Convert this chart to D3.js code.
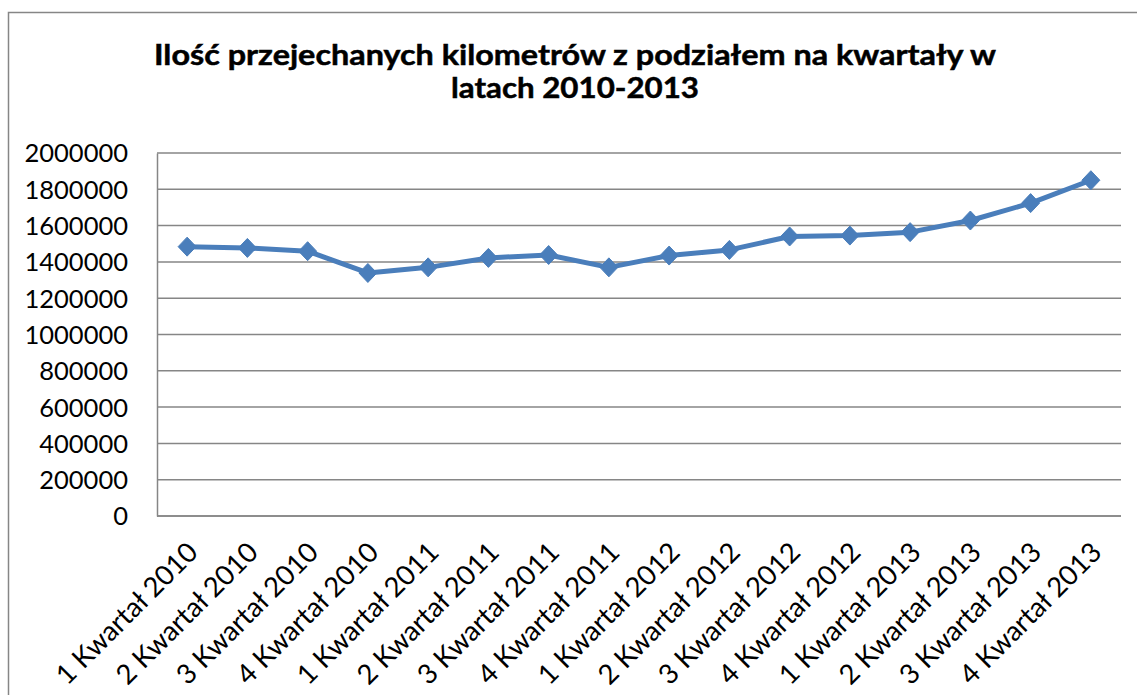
<!DOCTYPE html>
<html>
<head>
<meta charset="utf-8">
<script src="https://cdn.jsdelivr.net/npm/d3@7"></script>
<style>
  html, body { margin: 0; padding: 0; background: #fff; }
  svg { display: block; }
</style>
</head>
<body>
<svg id="chart" width="1137" height="695"></svg>
<script>
const categories = [
  "1 Kwartał 2010", "2 Kwartał 2010", "3 Kwartał 2010", "4 Kwartał 2010",
  "1 Kwartał 2011", "2 Kwartał 2011", "3 Kwartał 2011", "4 Kwartał 2011",
  "1 Kwartał 2012", "2 Kwartał 2012", "3 Kwartał 2012", "4 Kwartał 2012",
  "1 Kwartał 2013", "2 Kwartał 2013", "3 Kwartał 2013", "4 Kwartał 2013"
];
const kilometers = [
  1484000, 1477000, 1459000, 1339000,
  1370000, 1422000, 1438000, 1370000,
  1435000, 1466000, 1540000, 1545000,
  1564000, 1628000, 1724000, 1850000
];
const yTicks = [0, 200000, 400000, 600000, 800000, 1000000, 1200000, 1400000, 1600000, 1800000, 2000000];
const titleLines = ["Ilość przejechanych kilometrów z podziałem na kwartały w", "latach 2010-2013"];

const svg = d3.select("#chart");
const W = 1137, H = 695;
const plot = { left: 157, right: 1121, top: 153, bottom: 516 };
const font = "Lato, 'Open Sans', sans-serif";

// outer chart border (left and top visible)
svg.append("path")
  .attr("d", `M8.5,${H}V12.5H${W}`)
  .attr("fill", "none")
  .attr("stroke", "#868686")
  .attr("stroke-width", 1.5);

// title
const titleWidths = [842, 248];
titleLines.forEach((t, i) => {
  svg.append("text")
    .attr("text-anchor", "middle")
    .attr("font-family", font)
    .attr("font-weight", "bold")
    .attr("font-size", 29)
    .attr("fill", "#000")
    .attr("stroke", "#000")
    .attr("stroke-width", 0.5)
    .attr("x", 575)
    .attr("y", 65 + i * 33)
    .attr("textLength", titleWidths[i])
    .attr("lengthAdjust", "spacingAndGlyphs")
    .text(t);
});

const x = d3.scalePoint().domain(categories).range([plot.left, plot.right]).padding(0.5);
const y = d3.scaleLinear().domain([0, 2000000]).range([plot.bottom, plot.top]);

// gridlines
svg.append("g")
  .selectAll("line")
  .data(yTicks)
  .join("line")
  .attr("x1", plot.left).attr("x2", plot.right)
  .attr("y1", d => y(d)).attr("y2", d => y(d))
  .attr("stroke", "#868686")
  .attr("stroke-width", 1.5);

// y axis
const yAxis = svg.append("g")
  .attr("transform", `translate(${plot.left},0)`)
  .call(d3.axisLeft(y).tickValues(yTicks).tickFormat(d3.format("d")).tickSize(0).tickPadding(29));
yAxis.select(".domain").attr("stroke", "#868686").attr("stroke-width", 1.5);
yAxis.selectAll("text")
  .attr("font-family", font)
  .attr("font-size", 25.5)
  .attr("fill", "#000")
  .attr("dy", "0.35em");

// x axis
const xAxis = svg.append("g")
  .attr("transform", `translate(0,${plot.bottom})`)
  .call(d3.axisBottom(x).tickSize(0).tickPadding(0));
xAxis.select(".domain").attr("d", `M${plot.left},0H${plot.right}`).attr("stroke", "#868686").attr("stroke-width", 1.5);
xAxis.selectAll(".tick text")
  .attr("font-family", font)
  .attr("font-size", 27.5)
  .attr("fill", "#000")
  .attr("text-anchor", "end")
  .attr("dy", 0)
  .attr("y", 0)
  .attr("transform", "translate(12,38) rotate(-45)");

// line
const line = d3.line()
  .x((d, i) => x(categories[i]))
  .y(d => y(d));
svg.append("path")
  .datum(kilometers)
  .attr("d", line)
  .attr("fill", "none")
  .attr("stroke", "#4a7ebb")
  .attr("stroke-width", 5)
  .attr("stroke-linejoin", "round");

// diamond markers
const diamond = "M0,-9.5L9,0L0,9.5L-9,0Z";
svg.append("g")
  .selectAll("path")
  .data(kilometers)
  .join("path")
  .attr("d", diamond)
  .attr("transform", (d, i) => `translate(${x(categories[i])},${y(d)})`)
  .attr("fill", "#4a7ebb")
  .attr("stroke", "#4a7ebb")
  .attr("stroke-width", 1);
</script>
</body>
</html>
